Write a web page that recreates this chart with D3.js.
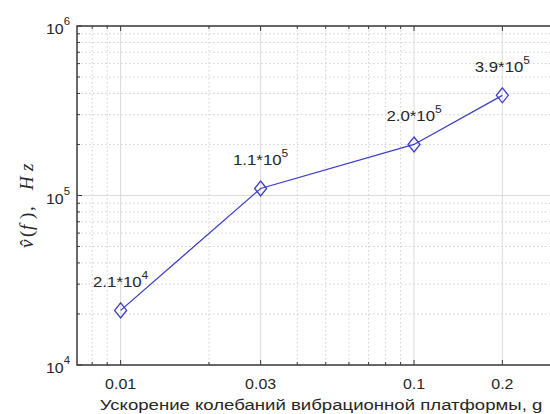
<!DOCTYPE html>
<html>
<head>
<meta charset="utf-8">
<script src="https://cdn.jsdelivr.net/npm/d3@7"></script>
<style>
  html, body { margin: 0; padding: 0; background: #fff; }
  svg { display: block; }
</style>
</head>
<body>
<svg id="chart" width="550" height="414"></svg>
<script>
// Platform acceleration (g) and estimated frequency (Hz)
const acceleration = [0.01, 0.03, 0.1, 0.2];
const frequency = [2.1e4, 1.1e5, 2.0e5, 3.9e5];

// Axis ticks
const xTicks = [0.01, 0.03, 0.1, 0.2];
const xTickLabels = ["0.01", "0.03", "0.1", "0.2"];
const xMinor = [0.008, 0.009, 0.02, 0.04, 0.05, 0.06, 0.07, 0.08, 0.09, 0.3];
const yTicks = [1e4, 1e5, 1e6];
const yMinor = [2e4, 3e4, 4e4, 5e4, 6e4, 7e4, 8e4, 9e4, 2e5, 3e5, 4e5, 5e5, 6e5, 7e5, 8e5, 9e5];

const xTitle = "Ускорение колебаний вибрационной платформы, g";

const svg = d3.select("#chart");
const pLeft = 77, pRight = 565, pTop = 26, pBottom = 365;
const SX = 1.14; // horizontal stretch applied to sans text
const FONT = "'Liberation Sans', Arial, Helvetica, sans-serif";
const lineColor = "#3d3dc4";

const x = d3.scaleLog().domain([0.0071, 0.327]).range([pLeft, pRight]);
const y = d3.scaleLog().domain([1e4, 1e6]).range([pBottom, pTop]);

const plot = svg.append("g");

// Minor grid (dotted)
plot.selectAll("line.xminor").data(xMinor).join("line")
  .attr("x1", d => x(d)).attr("x2", d => x(d))
  .attr("y1", pTop).attr("y2", pBottom)
  .attr("stroke", "#cfcfcf").attr("stroke-width", 1)
  .attr("stroke-dasharray", "1.5,2.5");
plot.selectAll("line.yminor").data(yMinor).join("line")
  .attr("x1", pLeft).attr("x2", pRight)
  .attr("y1", d => y(d)).attr("y2", d => y(d))
  .attr("stroke", "#cfcfcf").attr("stroke-width", 1)
  .attr("stroke-dasharray", "1.5,2.5");

// Major grid (solid)
plot.selectAll("line.xmajor").data(xTicks).join("line")
  .attr("x1", d => x(d)).attr("x2", d => x(d))
  .attr("y1", pTop).attr("y2", pBottom)
  .attr("stroke", "#dadada").attr("stroke-width", 1);
plot.selectAll("line.ymajor").data(yTicks).join("line")
  .attr("x1", pLeft).attr("x2", pRight)
  .attr("y1", d => y(d)).attr("y2", d => y(d))
  .attr("stroke", "#dadada").attr("stroke-width", 1);

// Box
const axisColor = "#3a3a3a";
plot.append("rect")
  .attr("x", pLeft).attr("y", pTop)
  .attr("width", pRight - pLeft).attr("height", pBottom - pTop)
  .attr("fill", "none").attr("stroke", axisColor).attr("stroke-width", 1.5);

// Tick marks (inward)
const ticks = plot.append("g").attr("stroke", axisColor).attr("stroke-width", 1);
xTicks.forEach(v => {
  ticks.append("line").attr("x1", x(v)).attr("x2", x(v)).attr("y1", pBottom).attr("y2", pBottom - 5);
  ticks.append("line").attr("x1", x(v)).attr("x2", x(v)).attr("y1", pTop).attr("y2", pTop + 5);
});
xMinor.forEach(v => {
  ticks.append("line").attr("x1", x(v)).attr("x2", x(v)).attr("y1", pBottom).attr("y2", pBottom - 3);
  ticks.append("line").attr("x1", x(v)).attr("x2", x(v)).attr("y1", pTop).attr("y2", pTop + 3);
});
yTicks.forEach(v => {
  ticks.append("line").attr("x1", pLeft).attr("x2", pLeft + 5).attr("y1", y(v)).attr("y2", y(v));
});
yMinor.forEach(v => {
  ticks.append("line").attr("x1", pLeft).attr("x2", pLeft + 3).attr("y1", y(v)).attr("y2", y(v));
});

// Stretched sans text helper
function sText(parent, px, py, anchor, size, sx = SX) {
  return parent.append("text")
    .attr("transform", `translate(${px},${py}) scale(${sx},1)`)
    .attr("text-anchor", anchor)
    .attr("font-family", FONT)
    .attr("font-size", size)
    .attr("fill", "#262626");
}

// X tick labels
xTicks.forEach((v, i) => {
  sText(svg, x(v), pBottom + 24, "middle", 14).text(xTickLabels[i]);
});

// Y tick labels: 10^n
yTicks.forEach(v => {
  const e = Math.round(Math.log10(v));
  const t = sText(svg, pLeft - 7, y(v) + 8, "end", 14);
  t.append("tspan").text("10");
  t.append("tspan").attr("font-size", 10).attr("dy", -9).text(String(e));
});

// X axis title
sText(svg, 321, 410, "middle", 15, 1.24).text(xTitle);

// Y axis title: \hat{nu}(f), Hz  (glyphs laid out along the rotated baseline)
const yTitle = svg.append("g")
  .attr("transform", "translate(33,248) rotate(-90)")
  .attr("font-family", "'Liberation Serif', 'Times New Roman', serif")
  .attr("font-size", 19)
  .attr("fill", "#262626");
const glyphs = [
  { t: "ν", x: 0, it: true },
  { t: "ˆ", x: 2, it: false },
  { t: "(", x: 11, it: false },
  { t: "f", x: 18, it: true },
  { t: ")", x: 29, it: false },
  { t: ",", x: 37, it: false },
  { t: "H", x: 58, it: true },
  { t: "z", x: 77, it: true }
];
glyphs.forEach(g => {
  yTitle.append("text")
    .attr("x", g.x).attr("y", 0)
    .attr("font-style", g.it ? "italic" : "normal")
    .text(g.t);
});

// Data line
const pts = acceleration.map((a, i) => [a, frequency[i]]);
svg.append("path")
  .datum(pts)
  .attr("fill", "none")
  .attr("stroke", lineColor)
  .attr("stroke-width", 1.3)
  .attr("d", d3.line().x(d => x(d[0])).y(d => y(d[1])));

// Diamond markers
svg.selectAll("path.marker").data(pts).join("path")
  .attr("class", "marker")
  .attr("d", d => {
    const cx = x(d[0]), cy = y(d[1]);
    return `M${cx},${cy - 7.5}L${cx + 6},${cy}L${cx},${cy + 7.5}L${cx - 6},${cy}Z`;
  })
  .attr("fill", "none")
  .attr("stroke", lineColor)
  .attr("stroke-width", 1.3);

// Value labels: m*10^e
pts.forEach(d => {
  const e = Math.floor(Math.log10(d[1]));
  const m = (d[1] / Math.pow(10, e)).toFixed(1);
  const t = sText(svg, x(d[0]), y(d[1]) - 23, "middle", 14, 1.2);
  t.append("tspan").text(`${m}*10`);
  t.append("tspan").attr("font-size", 10).attr("dy", -8).text(String(e));
});
</script>
</body>
</html>
